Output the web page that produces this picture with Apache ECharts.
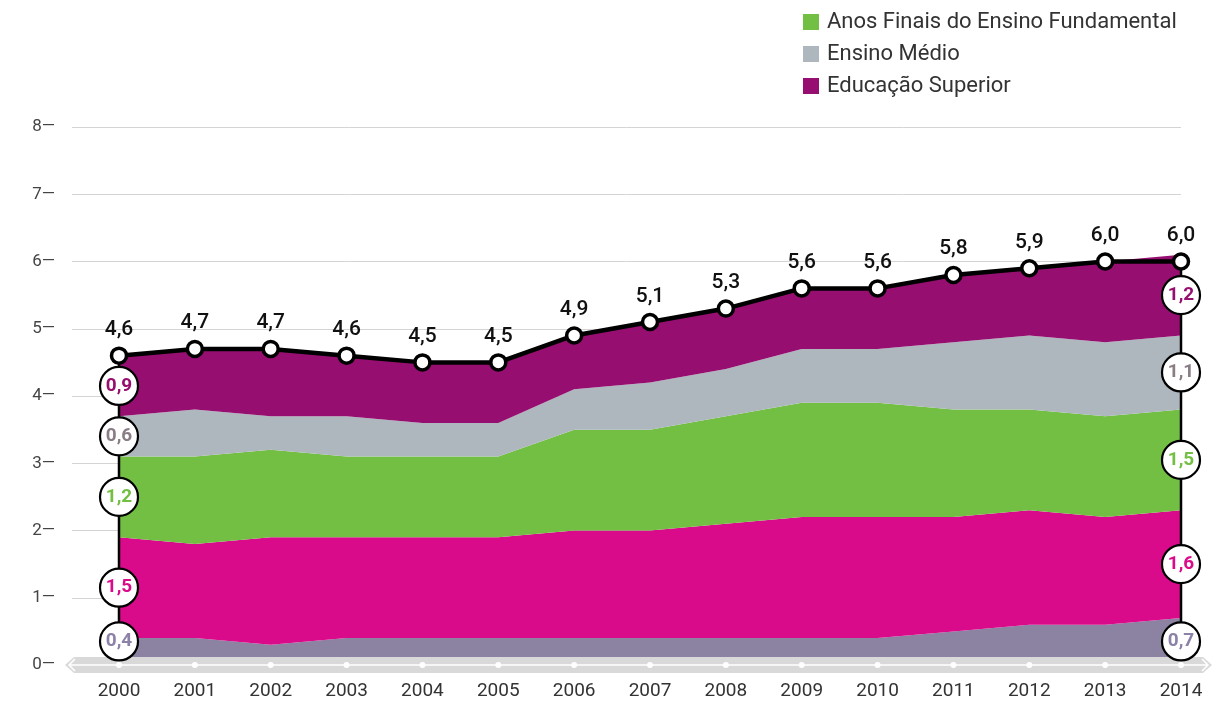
<!DOCTYPE html>
<html>
<head>
<meta charset="utf-8">
<script src="https://cdn.jsdelivr.net/npm/echarts@6/dist/echarts.min.js"></script>
<style>
  html, body { margin: 0; padding: 0; background: #fff; }
  #chart { width: 1225px; height: 702px; }
</style>
</head>
<body>
<div id="chart"></div>
<script>
// Anos de referência
const years = ['2000','2001','2002','2003','2004','2005','2006','2007','2008','2009','2010','2011','2012','2013','2014'];

// Camadas empilhadas, de baixo para cima (% do PIB)
const infantil  = [0.4,0.4,0.3,0.4,0.4,0.4,0.4,0.4,0.4,0.4,0.4,0.5,0.6,0.6,0.7];
const iniciais  = [1.5,1.4,1.6,1.5,1.5,1.5,1.6,1.6,1.7,1.8,1.8,1.7,1.7,1.6,1.6];
const finais    = [1.2,1.3,1.3,1.2,1.2,1.2,1.5,1.5,1.6,1.7,1.7,1.6,1.5,1.5,1.5];
const medio     = [0.6,0.7,0.5,0.6,0.5,0.5,0.6,0.7,0.7,0.8,0.8,1.0,1.1,1.1,1.1];
const superior  = [0.9,0.9,1.0,0.9,0.9,0.9,0.8,0.9,0.9,0.9,0.9,1.0,1.0,1.2,1.2];

// Total por ano
const totals    = [4.6,4.7,4.7,4.6,4.5,4.5,4.9,5.1,5.3,5.6,5.6,5.8,5.9,6.0,6.0];

// Marcas do eixo vertical
const yTicks = [0,1,2,3,4,5,6,7,8];

const FONT = 'Roboto';
const fmt = v => v.toFixed(1).replace('.', ',');

const layers = [
  { name: 'Educação Infantil', data: infantil, color: '#8c82a2', text: '#8c82a8' },
  { name: 'Anos Iniciais do Ensino Fundamental', data: iniciais, color: '#d90b8a', text: '#d90b8a' },
  { name: 'Anos Finais do Ensino Fundamental', data: finais, color: '#72bf44', text: '#72bf44' },
  { name: 'Ensino Médio', data: medio, color: '#adb7bd', text: '#8a7d86' },
  { name: 'Educação Superior', data: superior, color: '#960f70', text: '#960f70' }
];

// Círculos com o valor de cada camada no primeiro e no último ano
const endLabels = [];
[0, years.length - 1].forEach(j => {
  let base = 0;
  layers.forEach((l, i) => {
    const v = l.data[j];
    let mid = base + v / 2;
    if (i === 0) mid = Math.max(mid, 0.35);
    endLabels.push({ value: [j, mid], text: fmt(v), label: { color: l.text } });
    base += v;
  });
});

const areaSeries = layers.map(l => ({
  name: l.name,
  type: 'line',
  xAxisIndex: 1,
  yAxisIndex: 1,
  stack: 'total',
  data: l.data,
  symbol: 'none',
  lineStyle: { width: 0 },
  areaStyle: { color: l.color, opacity: 1 },
  itemStyle: { color: l.color },
  z: 2,
  silent: true
}));

const last = years.length - 1;

const option = {
  animation: false,
  backgroundColor: '#fff',
  textStyle: { fontFamily: FONT },
  legend: {
    data: ['Anos Finais do Ensino Fundamental', 'Ensino Médio', 'Educação Superior'],
    orient: 'vertical',
    left: 798,
    top: 6,
    itemWidth: 16,
    itemHeight: 16,
    itemGap: 10,
    icon: 'rect',
    selectedMode: false,
    textStyle: { fontFamily: FONT, fontSize: 22, color: '#333', padding: [0, 0, 0, 3] }
  },
  grid: [
    { left: 72, right: 44, top: 127, bottom: 37 },
    { left: 119, right: 44, top: 127, bottom: 37 }
  ],
  xAxis: [
    { type: 'category', gridIndex: 0, data: years, show: false },
    {
      type: 'category', gridIndex: 1, data: years, boundaryGap: false,
      axisLine: { show: false }, axisTick: { show: false },
      axisLabel: { fontFamily: FONT, fontSize: 19, color: '#333', margin: 17 }
    }
  ],
  yAxis: [
    {
      type: 'value', gridIndex: 0, min: yTicks[0], max: yTicks[yTicks.length - 1], interval: 1,
      axisLine: { show: false }, axisTick: { show: false },
      splitLine: { lineStyle: { color: '#d4d4d4', width: 1 } },
      axisLabel: { fontFamily: FONT, fontSize: 17, color: '#444', margin: 17, formatter: v => v + '\u2014' }
    },
    { type: 'value', gridIndex: 1, min: 0, max: 8, show: false }
  ],
  series: [
    ...areaSeries,
    // linhas verticais nas extremidades
    {
      type: 'line', xAxisIndex: 1, yAxisIndex: 1,
      data: [[0, 0], [0, totals[0]]], symbol: 'none',
      lineStyle: { color: '#000', width: 2.5 }, z: 3, silent: true
    },
    {
      type: 'line', xAxisIndex: 1, yAxisIndex: 1,
      data: [[last, 0], [last, totals[last]]], symbol: 'none',
      lineStyle: { color: '#000', width: 2.5 }, z: 3, silent: true
    },
    // total
    {
      name: 'Total', type: 'line', xAxisIndex: 1, yAxisIndex: 1,
      data: totals,
      symbol: 'circle', symbolSize: 15,
      lineStyle: { color: '#000', width: 4.5 },
      itemStyle: { color: '#fff', borderColor: '#000', borderWidth: 3.5 },
      label: {
        show: true, position: 'top', distance: 6,
        fontFamily: FONT, fontSize: 21, fontWeight: 500, color: '#111',
        formatter: p => fmt(p.value)
      },
      z: 8, silent: true
    },
    // valores das camadas nas extremidades
    {
      type: 'scatter', xAxisIndex: 1, yAxisIndex: 1,
      data: endLabels,
      symbol: 'circle', symbolSize: 38,
      itemStyle: { color: '#fff', borderColor: '#000', borderWidth: 2.2, opacity: 1 },
      label: {
        show: true, position: 'inside',
        fontFamily: FONT, fontSize: 19, fontWeight: 'bold',
        formatter: p => p.data.text
      },
      z: 9, silent: true
    },
    // pontos do eixo
    {
      type: 'scatter', xAxisIndex: 1, yAxisIndex: 1,
      data: years.map((y, i) => [i, 0]),
      symbol: 'circle', symbolSize: 6,
      itemStyle: { color: '#fff', opacity: 1 },
      z: 7, silent: true
    }
  ]
};

const chart = echarts.init(document.getElementById('chart'), null, { renderer: 'canvas' });
chart.setOption(option);

// Faixa do eixo horizontal com setas nas pontas
const p0 = chart.convertToPixel({ xAxisIndex: 1, yAxisIndex: 1 }, [0, 0]);
const p1 = chart.convertToPixel({ xAxisIndex: 1, yAxisIndex: 1 }, [last, 0]);
const xa = p0[0] - 54, xb = p1[0] + 31, ym = p0[1], h = 8;
chart.setOption({
  graphic: [
    {
      type: 'polygon', z: 5, silent: true,
      shape: { points: [[xa + 9, ym - h], [xb - 9, ym - h], [xb, ym], [xb - 9, ym + h], [xa + 9, ym + h], [xa, ym]] },
      style: { fill: '#d9d9d9' }
    },
    {
      type: 'polyline', z: 6, silent: true,
      shape: { points: [[xa + 10, ym - 6], [xa + 4, ym], [xa + 10, ym + 6]] },
      style: { stroke: '#fff', lineWidth: 1.5, fill: null }
    },
    {
      type: 'polyline', z: 6, silent: true,
      shape: { points: [[xb - 10, ym - 6], [xb - 4, ym], [xb - 10, ym + 6]] },
      style: { stroke: '#fff', lineWidth: 1.5, fill: null }
    },
    {
      type: 'line', z: 6, silent: true,
      shape: { x1: xa + 4, y1: ym, x2: xb - 4, y2: ym },
      style: { stroke: '#fff', lineWidth: 1.5 }
    }
  ]
});
</script>
</body>
</html>
